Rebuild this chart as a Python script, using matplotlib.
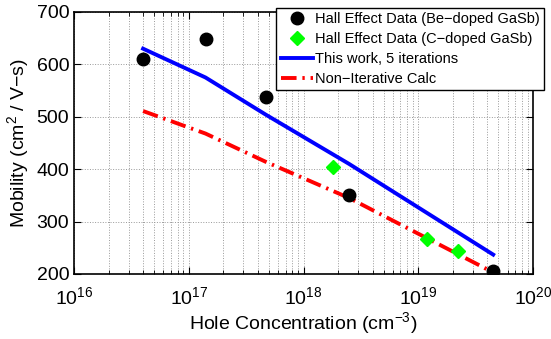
import numpy as np
import matplotlib
matplotlib.use('Agg')
import matplotlib.pyplot as plt
from matplotlib.ticker import LogLocator, NullFormatter, MultipleLocator

plt.rcParams['font.family'] = ['Liberation Sans', 'DejaVu Sans']
plt.rcParams['mathtext.fontset'] = 'custom'
plt.rcParams['mathtext.rm'] = 'Liberation Sans'
plt.rcParams['mathtext.it'] = 'Liberation Sans'

# Hall effect data
be_conc = [4e16, 1.4e17, 4.7e17, 2.5e18, 4.5e19]
be_mob = [610, 648, 538, 350, 206]
c_conc = [1.8e18, 1.2e19, 2.2e19]
c_mob = [404, 266, 244]

# calculations
calc_conc = [4e16, 1.4e17, 4.7e17, 2.5e18, 4.5e19]
iter_mob = [630, 575, 504, 410, 237]
noniter_mob = [511, 468, 414, 345, 203]

fig = plt.figure(figsize=(5.51, 3.39), dpi=100)
ax = fig.add_axes([74/551, 1 - 274/339, (533-74)/551, (274-12)/339])

ax.plot(calc_conc, iter_mob, color='#0000ff', lw=2.8, label='This work, 5 iterations', zorder=3)
ax.plot(calc_conc, noniter_mob, color='#ff0000', lw=2.8, ls=(0, (4, 1.5, 0.6, 1.5)),
        label='Non\u2212Iterative Calc', zorder=3)
ax.plot(be_conc, be_mob, 'o', color='k', ms=9, label='Hall Effect Data (Be\u2212doped GaSb)', zorder=4)
ax.plot(c_conc, c_mob, 'D', color='#00ff00', ms=7.5, label='Hall Effect Data (C\u2212doped GaSb)', zorder=4)

ax.set_xscale('log')
ax.set_xlim(1e16, 1e20)
ax.set_ylim(200, 700)
ax.xaxis.set_major_locator(LogLocator(base=10, numticks=10))
ax.xaxis.set_minor_locator(LogLocator(base=10, subs=np.arange(2, 10), numticks=20))
ax.xaxis.set_minor_formatter(NullFormatter())
ax.yaxis.set_major_locator(MultipleLocator(100))

ax.grid(True, which='major', ls=':', color='#999999', lw=0.7)
ax.grid(True, which='minor', axis='x', ls=':', color='#999999', lw=0.7)
ax.tick_params(which='both', direction='in', top=True, right=True, labelsize=14)
ax.tick_params(axis='x', which='major', pad=9)
ax.tick_params(which='major', length=5)
ax.tick_params(which='minor', length=3)
for s in ax.spines.values():
    s.set_linewidth(1.2)

ax.set_xlabel('Hole Concentration (cm$^{\u22123}$)', fontsize=14, labelpad=1)
ax.set_ylabel('Mobility (cm$^2$ / V\u2212s)', fontsize=14)

handles, labels = ax.get_legend_handles_labels()
order = [2, 3, 0, 1]
leg = ax.legend([handles[i] for i in order], [labels[i] for i in order],
                loc='upper right', bbox_to_anchor=(544/551, 1 - 8/339),
                bbox_transform=fig.transFigure, fontsize=10.5, frameon=True,
                fancybox=False, edgecolor='k', framealpha=1, borderpad=0.3,
                labelspacing=0.4, handlelength=2.2, handletextpad=0.15, borderaxespad=0)
leg.get_frame().set_linewidth(1.0)

fig.savefig('out.png', dpi=100)
